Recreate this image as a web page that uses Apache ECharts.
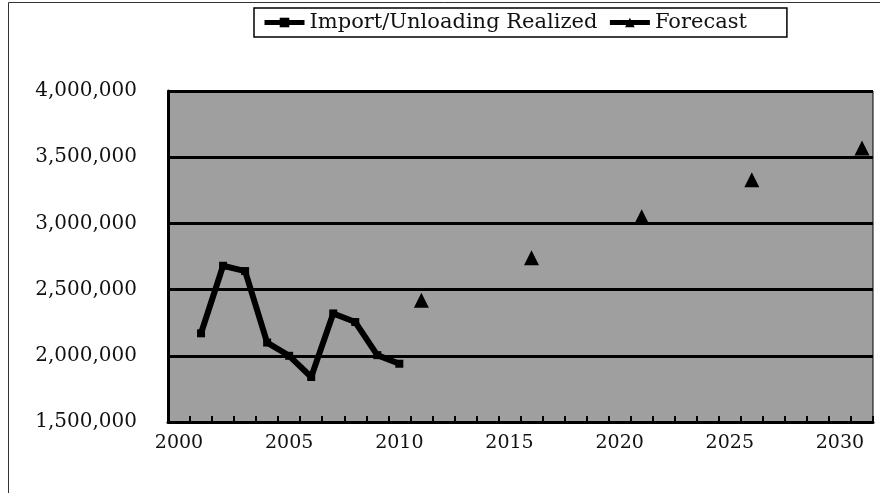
<!DOCTYPE html>
<html>
<head>
<meta charset="utf-8">
<script src="https://cdn.jsdelivr.net/npm/echarts@6/dist/echarts.min.js"></script>
<style>
  html, body { margin: 0; padding: 0; background: #fff; }
  #chart { width: 880px; height: 493px; }
</style>
</head>
<body>
<div id="chart"></div>
<script>
// Year categories on the horizontal axis
const years = ['2000','2001','2002','2003','2004','2005','2006','2007','2008','2009',
               '2010','2011','2012','2013','2014','2015','2016','2017','2018','2019',
               '2020','2021','2022','2023','2024','2025','2026','2027','2028','2029',
               '2030','2031'];

// Realized import/unloading volumes
const realizedYears  = ['2001','2002','2003','2004','2005','2006','2007','2008','2009','2010'];
const realizedValues = [2170000, 2680000, 2640000, 2100000, 2000000, 1840000, 2320000, 2255000, 2005000, 1940000];

// Forecast volumes (every five years)
const forecastYears  = ['2011','2016','2021','2026','2031'];
const forecastValues = [2420000, 2740000, 3050000, 3330000, 3570000];

// Value-axis tick range
const yMin = 1500000, yMax = 4000000, yStep = 500000;

function alignToYears(keys, vals) {
  return years.map(y => {
    const i = keys.indexOf(y);
    return i >= 0 ? vals[i] : null;
  });
}

const FONT = 'DejaVu Serif';
const chart = echarts.init(document.getElementById('chart'), null, { renderer: 'canvas' });

chart.setOption({
  animation: false,
  backgroundColor: '#ffffff',
  graphic: [{
    type: 'rect',
    silent: true,
    shape: { x: 8.5, y: 2.5, width: 900, height: 600 },
    style: { fill: 'none', stroke: '#333', lineWidth: 1 }
  }],
  legend: {
    top: 8,
    left: 254,
    itemWidth: 40,
    itemHeight: 12,
    itemGap: 10,
    padding: [4, 40, 4, 8],
    borderColor: '#000',
    borderWidth: 1.5,
    backgroundColor: '#fff',
    lineStyle: { width: 5, color: '#000' },
    textStyle: { fontFamily: FONT, fontSize: 21, color: '#111' },
    data: ['Import/Unloading Realized', 'Forecast']
  },
  grid: {
    left: 168, right: 7, top: 91, bottom: 71,
    show: true,
    backgroundColor: '#9f9f9f',
    borderColor: '#000',
    borderWidth: 1
  },
  xAxis: {
    type: 'category',
    data: years,
    boundaryGap: true,
    axisLine: { lineStyle: { color: '#000', width: 3 } },
    axisTick: { show: true, inside: true, interval: 0, length: 6, lineStyle: { color: '#000', width: 2 } },
    axisLabel: { interval: 4, margin: 12, fontFamily: FONT, fontSize: 19, color: '#111' },
    splitLine: { show: false }
  },
  yAxis: {
    type: 'value',
    min: yMin, max: yMax, interval: yStep,
    axisLine: { show: true, lineStyle: { color: '#000', width: 3 } },
    axisTick: { show: false },
    axisLabel: {
      margin: 31, fontFamily: FONT, fontSize: 20, color: '#111',
      formatter: v => v.toLocaleString('en-US')
    },
    splitLine: { lineStyle: { color: '#000', width: 3 } }
  },
  series: [
    {
      name: 'Import/Unloading Realized',
      type: 'line',
      data: alignToYears(realizedYears, realizedValues),
      symbol: 'rect',
      symbolSize: 8,
      showSymbol: true,
      showAllSymbol: true,
      lineStyle: { color: '#000', width: 6 },
      itemStyle: { color: '#000' }
    },
    {
      name: 'Forecast',
      type: 'line',
      data: alignToYears(forecastYears, forecastValues),
      connectNulls: false,
      symbol: 'triangle',
      symbolSize: 15,
      showSymbol: true,
      showAllSymbol: true,
      lineStyle: { color: '#000', width: 6 },
      itemStyle: { color: '#000' }
    }
  ]
});
</script>
</body>
</html>
